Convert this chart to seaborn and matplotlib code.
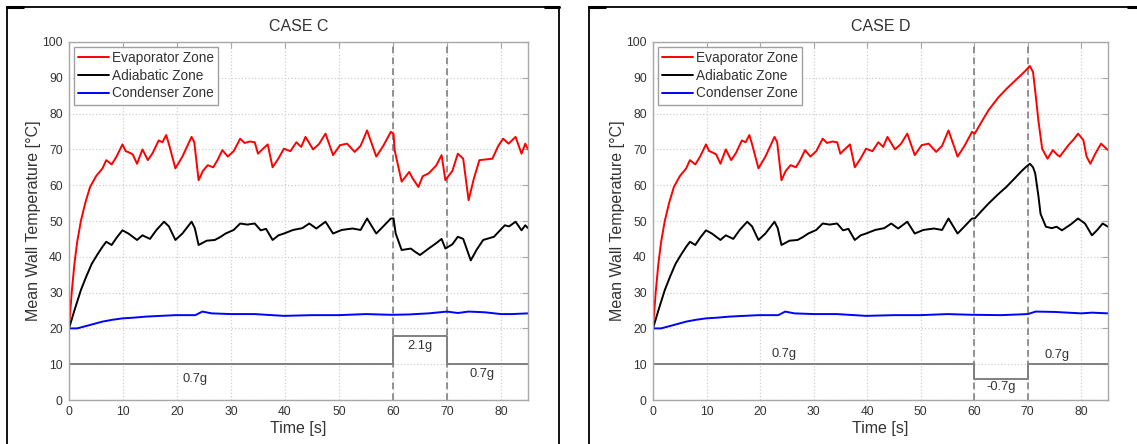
import numpy as np
import pandas as pd
import matplotlib
matplotlib.use("Agg")
import matplotlib.pyplot as plt
from matplotlib.lines import Line2D
import seaborn as sns

# --- data (time in s, temperature in degC) ---
# first 60 s are the same in both cases
t_evap_base = [0, 0.5, 1, 1.5, 2.2, 3, 3.9, 5, 6.2, 6.9, 7.9, 8.8, 9.9, 10.5, 10.9, 11.8, 12.6,
               13.6, 14.6, 15.5, 16.6, 17.3, 18, 18.5, 19.7, 21, 22.7, 23.2, 24, 24.8, 25.7,
               26.7, 27.5, 28.4, 29.4, 30.5, 31.7, 32.5, 33.5, 34.4, 35, 35.8, 36.8, 37.7,
               38.8, 39.8, 41, 42.1, 43, 43.8, 45.2, 46.3, 47.5, 48.9, 50.2, 51.5, 52.9, 54,
               55.2, 56.9, 58.2, 59.6]
evap_base = [20, 30, 38, 44, 50, 55, 59.5, 62.5, 64.7, 67, 65.8, 68, 71.4, 69.5, 69.3, 68.6, 66,
             70, 67, 69, 72.5, 72, 74, 71.5, 64.7, 68, 73.5, 72, 61.4, 64, 65.6,
             65, 67, 69.8, 68, 69.5, 73, 71.8, 72.2, 72, 68.8, 70, 71.4, 65,
             67.5, 70.2, 69.5, 72, 70.7, 73.5, 70, 71.5, 74.4, 68.4, 71.2, 71.6, 69.3, 71,
             75.3, 68, 71, 74.9]

t_adia_base = [0, 1, 2.2, 3.2, 4.2, 5.2, 6.2, 6.9, 7.9, 8.9, 9.9, 11, 12.6, 13.6, 15, 16.2,
               17.6, 18.5, 19.7, 21, 22.7, 23.3, 24, 25.5, 27, 28, 29, 30.5, 31.7, 33, 34.4,
               35.5, 36.5, 37.7, 38.8, 39.8, 41.5, 43.2, 44.5, 45.8, 47.5, 48.9, 50.5, 52.5,
               54, 55.2, 56.9, 58.2, 59.6]
adia_base = [20, 25, 30.7, 34.5, 38, 40.5, 42.8, 44.2, 43.3, 45.5, 47.4, 46.5, 44.7, 46, 45, 47.5,
             49.8, 48.5, 44.7, 46.5, 49.8, 48, 43.3, 44.5, 44.7, 45.5, 46.5, 47.5, 49.3, 49, 49.3,
             47.4, 47.8, 44.7, 46, 46.5, 47.5, 48, 49.3, 47.9, 49.8, 46.5, 47.5, 47.9,
             47.5, 50.7, 46.5, 48.5, 50.7]

t_cond_base = [0, 1.5, 4, 6.2, 8, 9.9, 12, 14.3, 17, 19.7, 23.4, 24.7, 26.4, 30, 34.4, 39.8,
               45, 49.9, 55, 59.6]
cond_base = [20, 20, 21, 21.9, 22.4, 22.8, 23, 23.3, 23.5, 23.7, 23.7, 24.7, 24.2, 24, 24, 23.5,
             23.7, 23.7, 24, 23.8]

# CASE C, after 60 s
t_evap_c = [60.1, 60.3, 61.6, 63, 63.6, 64.7, 65.5, 66.6, 68, 69, 69.7, 71, 72, 73, 74, 75, 76,
            78.4, 79.5, 80.4, 81.4, 82.7, 83.8, 84.5, 85]
evap_c = [74.4, 69.8, 61, 63.7, 62, 59.5, 62.5, 63.3, 65.5, 68.4, 61.4, 64, 68.8, 67.4, 55.8, 62, 67,
          67.4, 71, 73, 71.6, 73.5, 68.8, 71.6, 70]
t_adia_c = [60.1, 60.5, 61.6, 63.3, 64, 65, 66.6, 68, 69, 69.7, 71, 72, 73, 74.4, 75.5, 76.7,
            78.7, 80.7, 81.5, 82.7, 83.8, 84.5, 85]
adia_c = [50.7, 46.5, 41.9, 42.3, 41.5, 40.5, 42.3, 43.8, 45, 42.3, 43.5, 45.6, 45, 39, 42, 44.7,
          45.6, 48.8, 48.5, 49.8, 47.4, 48.8, 48]
t_cond_c = [60, 63, 66.6, 70, 72, 74, 77, 80, 82, 85]
cond_c = [23.8, 23.9, 24.2, 24.7, 24.3, 24.7, 24.5, 24, 24, 24.2]

# CASE D, after 60 s
t_evap_d = [60.1, 61.5, 62.7, 64.5, 66.1, 67.5, 68.7, 69.6, 70.4, 71, 71.5, 72, 72.7, 73.7, 74.7,
            75.5, 76, 77.5, 78.7, 79.4, 80.4, 81, 81.7, 82.7, 83.7, 85]
evap_d = [74.4, 78, 81, 84.5, 87, 89, 90.7, 92, 93.3, 91.6, 85, 78, 70.2, 67.4, 69.8,
          68.5, 68, 71, 73, 74.4, 72.6, 68, 66, 69, 71.6, 69.8]
t_adia_d = [60.1, 61.5, 62.7, 64.5, 66, 67.5, 68.7, 69.6, 70.4, 71, 71.4, 72, 72.4, 73.4, 74.5,
            75.4, 76.4, 78, 79.4, 80.7, 82, 83, 84, 85]
adia_d = [50.7, 53, 54.9, 57.5, 59.5, 61.8, 63.7, 65, 66, 65, 63.3, 57, 52, 48.4, 48,
          48.4, 47.4, 49, 50.7, 49.3, 46, 47.5, 49.3, 48.4]
t_cond_d = [60, 65, 70, 71.5, 75, 80, 82, 85]
cond_d = [23.8, 23.7, 24, 24.7, 24.6, 24.2, 24.4, 24.2]

# gravity level trace (drawn on the temperature scale)
step_t = [0, 60, 70, 85]
step_c = [10, 18, 10, 10]
step_d = [10, 6, 10, 10]
g_labels_c = ["0.7g", "2.1g", "0.7g"]
g_labels_d = ["0.7g", "-0.7g", "0.7g"]

zones = ["Evaporator Zone", "Adiabatic Zone", "Condenser Zone"]
colors = {"Evaporator Zone": "#ff0000", "Adiabatic Zone": "#000000", "Condenser Zone": "#0000ff"}


def make_frame(te, e, ta, a, tc, c):
    parts = []
    for name, tt, vv in [(zones[0], t_evap_base + te, evap_base + e),
                         (zones[1], t_adia_base + ta, adia_base + a),
                         (zones[2], t_cond_base + tc, cond_base + c)]:
        parts.append(pd.DataFrame({"t": tt, "T": vv, "zone": name}))
    return pd.concat(parts, ignore_index=True)


df_c = make_frame(t_evap_c, evap_c, t_adia_c, adia_c, t_cond_c, cond_c)
df_d = make_frame(t_evap_d, evap_d, t_adia_d, adia_d, t_cond_d, cond_d)

sns.set_theme(style="whitegrid")
plt.rcParams["font.family"] = ["Liberation Sans", "DejaVu Sans"]

W, H = 1137, 444
fig = plt.figure(figsize=(W / 100, H / 100), dpi=100)
fig.patch.set_facecolor("white")

txt_col = "#333333"
ax_c = fig.add_axes([69 / W, 1 - 400 / H, (528 - 69) / W, 358 / H])
ax_d = fig.add_axes([653 / W, 1 - 400 / H, (1108 - 653) / W, 358 / H])


def draw_panel(ax, df, step_vals, title, g_labels, g_pos):
    sns.lineplot(data=df, x="t", y="T", hue="zone", hue_order=zones, palette=colors,
                 estimator=None, sort=False, lw=1.4, ax=ax)
    sns.lineplot(x=step_t, y=step_vals, drawstyle="steps-post", color="#808080",
                 lw=1.4, ax=ax, legend=False)
    for xv in (60, 70):
        ax.axvline(xv, color="#808080", ls=(0, (4, 2.5)), lw=1.2, zorder=1.5)
    for lab, (xx, yy) in zip(g_labels, g_pos):
        ax.text(xx, yy, lab, ha="center", va="center", fontsize=9.3, color=txt_col)

    ax.set_xlim(0, 85)
    ax.set_ylim(0, 100)
    ax.set_xticks(range(0, 81, 10))
    ax.set_yticks(range(0, 101, 10))
    ax.grid(True, color="#cfcfcf", ls=":", lw=0.9)
    for sp in ax.spines.values():
        sp.set_color("#a8a8a8")
        sp.set_linewidth(1.0)
    ax.tick_params(direction="in", length=4, width=0.8, color="#a8a8a8",
                   top=True, right=True, labelsize=8.7, labelcolor=txt_col, pad=4.5)
    ax.set_xlabel("Time [s]", fontsize=11.5, color=txt_col, labelpad=2)
    ax.set_ylabel("Mean Wall Temperature [\u00b0C]", fontsize=11.5, color=txt_col, labelpad=1)
    ax.set_title(title, fontsize=11.5, color=txt_col, pad=8)

    handles, labels = ax.get_legend_handles_labels()
    leg = ax.legend(handles[:3], labels[:3], loc="upper left", fontsize=9.8,
                    frameon=True, fancybox=False, framealpha=1, edgecolor="#a0a0a0",
                    handlelength=2.3, handletextpad=0.2, borderpad=0.3, labelspacing=0.28,
                    borderaxespad=0.35)
    leg.get_frame().set_linewidth(1.0)
    for t in leg.get_texts():
        t.set_color(txt_col)


draw_panel(ax_c, df_c, step_c, "CASE C", g_labels_c, [(23.4, 6.0), (65, 15.2), (76.5, 7.2)])
draw_panel(ax_d, df_d, step_d, "CASE D", g_labels_d, [(24.5, 12.9), (65, 3.7), (75.5, 12.7)])

# black panel frames around each subplot
def fline(x0, y0, x1, y1, lw=1.3):
    fig.add_artist(Line2D([x0 / W, x1 / W], [1 - y0 / H, 1 - y1 / H],
                          transform=fig.transFigure, color="black", lw=lw))

fline(7, 7, 559, 7)
fline(7, 7, 7, 444)
fline(559, 7, 559, 444)
fline(7, 7, 23, 7, lw=2.2)
fline(545, 7, 559, 7, lw=2.2)
fline(589, 7, 1137, 7)
fline(589, 7, 589, 444)
fline(589, 7, 605, 7, lw=2.2)
fline(1128, 7, 1137, 7, lw=2.2)

fig.savefig("out.png", dpi=100, facecolor="white")
